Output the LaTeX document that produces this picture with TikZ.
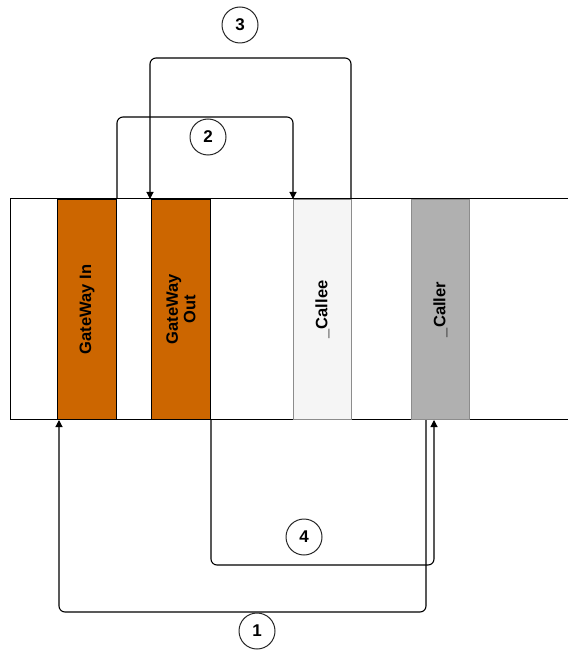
\documentclass[tikz,border=0pt]{standalone}
\usepackage{fontspec}
\setmainfont{Liberation Sans}
\usetikzlibrary{calc,arrows.meta}
\definecolor{orangefill}{HTML}{CC6600}
\definecolor{lightfill}{HTML}{F5F5F5}
\definecolor{darkfill}{HTML}{B0B0B0}
\definecolor{grayline}{HTML}{8C8C8C}
\begin{document}
\begin{tikzpicture}[x=1pt,y=-1pt,
  lane/.style={draw, minimum width=59pt, minimum height=220pt, anchor=north west, inner sep=0pt, line width=1pt},
  lbl/.style={font=\bfseries\fontsize{16.5}{17.5}\selectfont, rotate=90, align=center, inner sep=0pt},
  num/.style={draw, circle, minimum size=36pt, inner sep=0pt, line width=1pt, draw=black!85, font=\bfseries\fontsize{17}{18}\selectfont},
  conn/.style={line width=1.1pt, rounded corners=6pt, -{Triangle[length=7pt,width=7pt]}}
]
\useasboundingbox (0,0) rectangle (567,652);
\draw[line width=1pt] (568,199) -- (10,199) -- (10,419) -- (568,419);
\node[lane, fill=orangefill] (gin) at (57,199) {};
\node[lane, fill=orangefill] (gout) at (151,199) {};
\node[lane, fill=lightfill, draw=grayline, minimum width=58pt] (callee) at (293,199) {};
\node[lane, fill=darkfill, draw=grayline, minimum width=58pt] (caller) at (411,199) {};
\node[lbl] (ginlbl) at (gin.center) {GateWay In};
\node[lbl] (goutlbl) at (gout.center) {GateWay\\Out};
\node[lbl] (calleelbl) at (callee.center) {\_Callee};
\node[lbl] (callerlbl) at (caller.center) {\_Caller};

\coordinate (c1s) at ($(caller.south west)+(15,0)$);
\coordinate (c1e) at ($(gin.south west)+(2,0)$);
\coordinate (c4e) at ($(caller.south west)+(23,0)$);
\coordinate (c3s) at ($(callee.north east)+(-1,0)$);
\coordinate (c3e) at ($(gout.north west)+(-1,0)$);

\draw[conn] (c1s) -- ++(0,192) -| (c1e);
\draw[conn] (gout.south east) -- ++(0,145) -| (c4e);
\draw[conn] (gin.north east) -- ++(0,-82) -| (callee.north west);
\draw[conn] (c3s) -- ++(0,-141) -| (c3e);

\node[num] (n1) at (257,631) {1};
\node[num] (n2) at (208,137) {2};
\node[num] (n3) at (240,25) {3};
\node[num] (n4) at (304,537) {4};
\end{tikzpicture}
\end{document}
